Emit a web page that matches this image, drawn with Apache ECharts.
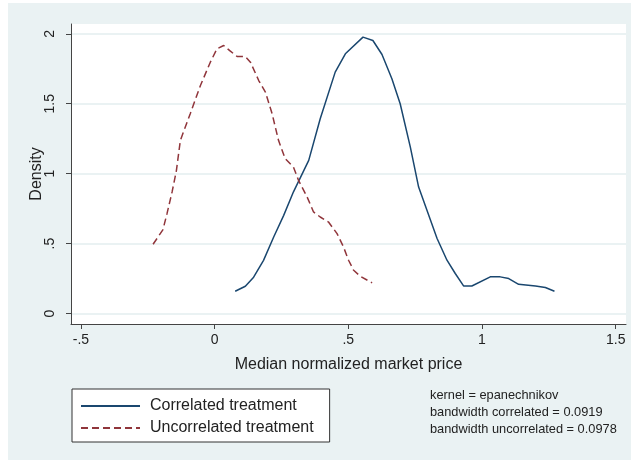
<!DOCTYPE html>
<html>
<head>
<meta charset="utf-8">
<script src="https://cdn.jsdelivr.net/npm/echarts@6/dist/echarts.min.js"></script>
<style>
  html, body { margin: 0; padding: 0; background: #fff; }
  #chart { width: 632px; height: 461px; }
</style>
</head>
<body>
<div id="chart"></div>
<script>
// kernel density, correlated treatment
const corrX = [0.077, 0.115, 0.146, 0.183, 0.221, 0.258, 0.295, 0.333, 0.352, 0.395, 0.451, 0.489, 0.555, 0.592, 0.626, 0.663, 0.694, 0.732, 0.763, 0.832, 0.869, 0.900, 0.931, 0.962, 1.031, 1.068, 1.100, 1.137, 1.200, 1.237, 1.271];
const corrY = [0.159, 0.195, 0.260, 0.380, 0.547, 0.700, 0.870, 1.020, 1.095, 1.393, 1.726, 1.857, 1.976, 1.952, 1.852, 1.679, 1.500, 1.190, 0.904, 0.536, 0.381, 0.286, 0.197, 0.197, 0.262, 0.262, 0.250, 0.209, 0.197, 0.186, 0.159];

// kernel density, uncorrelated treatment
const uncX = [-0.230, -0.193, -0.178, -0.159, -0.143, -0.128, -0.091, -0.053, -0.016, 0.009, 0.034, 0.059, 0.084, 0.115, 0.134, 0.165, 0.190, 0.215, 0.239, 0.264, 0.295, 0.314, 0.346, 0.370, 0.395, 0.426, 0.458, 0.482, 0.501, 0.520, 0.545, 0.589];
const uncY = [0.495, 0.600, 0.714, 0.869, 1.020, 1.238, 1.429, 1.630, 1.797, 1.893, 1.916, 1.876, 1.838, 1.838, 1.797, 1.666, 1.583, 1.429, 1.238, 1.107, 1.047, 0.952, 0.833, 0.726, 0.690, 0.654, 0.571, 0.476, 0.381, 0.309, 0.266, 0.219];

const xTicks = [-0.5, 0, 0.5, 1, 1.5];
const xTickLabels = ['-.5', '0', '.5', '1', '1.5'];
const yTicks = [0, 0.5, 1, 1.5, 2];
const yTickLabels = ['0', '.5', '1', '1.5', '2'];

const noteLines = ['kernel = epanechnikov', 'bandwidth correlated = 0.0919', 'bandwidth uncorrelated = 0.0978'];

const FONT = '"Liberation Sans", Arial, sans-serif';
const BG = '#eaf2f3';

function pairs(xs, ys) {
    return xs.map((x, i) => [x, ys[i]]);
}

function labelFor(ticks, labels) {
    return v => {
        const i = ticks.findIndex(t => Math.abs(t - v) < 1e-9);
        return i >= 0 ? labels[i] : '';
    };
}

const chart = echarts.init(document.getElementById('chart'));

chart.setOption({
    animation: false,
    backgroundColor: '#fff',
    textStyle: { fontFamily: FONT },
    graphic: [
        {
            type: 'rect', z: -10, silent: true,
            shape: { x: 8, y: 3, width: 623, height: 457 },
            style: { fill: BG }
        },
        {
            type: 'text', left: 430, top: 387, silent: true,
            style: {
                text: noteLines.join('\n'),
                fontFamily: FONT, fontSize: 12.8, lineHeight: 17, fill: '#222'
            }
        }
    ],
    grid: {
        left: 71, top: 24, right: 6, bottom: 137,
        show: true, backgroundColor: '#fff', borderWidth: 0
    },
    legend: {
        orient: 'vertical',
        left: 72, top: 389,
        padding: [9, 16, 6, 8],
        itemGap: 6,
        itemWidth: 59, itemHeight: 14,
        backgroundColor: '#fff',
        borderColor: '#333', borderWidth: 1,
        borderRadius: 0,
        itemStyle: { opacity: 0 },
        textStyle: { fontSize: 16, lineHeight: 16, color: '#222', padding: [0, 0, 0, 5], fontFamily: FONT },
        data: ['Correlated treatment', 'Uncorrelated treatment']
    },
    xAxis: {
        type: 'value',
        min: -0.537, max: 1.5385,
        name: 'Median normalized market price',
        nameLocation: 'middle', nameGap: 33,
        nameTextStyle: { fontSize: 16, color: '#222' },
        axisLine: { onZero: false, lineStyle: { color: '#444', width: 1 } },
        axisTick: { show: true, length: 5, customValues: xTicks, lineStyle: { color: '#444' } },
        axisLabel: { customValues: xTicks, formatter: labelFor(xTicks, xTickLabels), fontSize: 14, color: '#222', margin: 9 },
        splitLine: { show: false }
    },
    yAxis: {
        type: 'value',
        min: -0.075, max: 2.07,
        name: 'Density',
        nameLocation: 'middle', nameGap: 26, nameRotate: 90,
        nameMoveOverlap: false,
        nameTextStyle: { fontSize: 16, color: '#222' },
        axisLine: { show: true, onZero: false, lineStyle: { color: '#444', width: 1 } },
        axisTick: { show: true, length: 5, customValues: yTicks, lineStyle: { color: '#444' } },
        axisLabel: { customValues: yTicks, formatter: labelFor(yTicks, yTickLabels), rotate: 90, fontSize: 14, color: '#222', margin: 14 },
        splitLine: { show: true, lineStyle: { color: BG, width: 2 } }
    },
    series: [
        {
            name: 'Correlated treatment',
            type: 'line',
            data: pairs(corrX, corrY),
            symbol: 'none',
            color: '#1a476f',
            lineStyle: { color: '#1a476f', width: 1.5 }
        },
        {
            name: 'Uncorrelated treatment',
            type: 'line',
            data: pairs(uncX, uncY),
            symbol: 'none',
            color: '#90353b',
            lineStyle: { color: '#90353b', width: 1.5, type: [7, 4] }
        }
    ]
});
</script>
</body>
</html>
